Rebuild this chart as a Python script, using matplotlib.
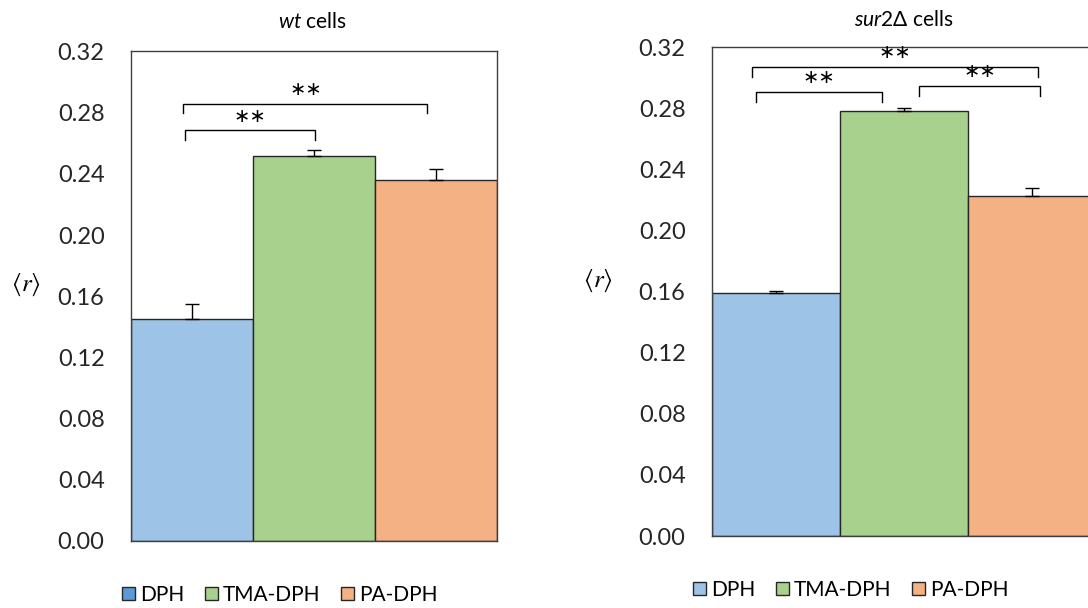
import matplotlib
matplotlib.use('Agg')
import matplotlib.pyplot as plt
from matplotlib.patches import Patch

plt.rcParams['font.family'] = ['Lato', 'DejaVu Sans']
plt.rcParams['mathtext.fontset'] = 'custom'
plt.rcParams['mathtext.rm'] = 'Lato'
plt.rcParams['mathtext.it'] = 'Lato:italic'

# datos
sondas = ['DPH', 'TMA-DPH', 'PA-DPH']
wt_media = [0.145, 0.2515, 0.236]
wt_error = [0.0100, 0.0040, 0.0070]
sur2_media = [0.159, 0.2784, 0.2225]
sur2_error = [0.0012, 0.0018, 0.0052]
yticks = [0.00, 0.04, 0.08, 0.12, 0.16, 0.20, 0.24, 0.28, 0.32]

# corchetes de significancia: (x0, x1, altura)
wt_corchetes = [(-0.06, 1.01, 0.2685), (-0.07, 1.93, 0.2860)]
sur2_corchetes = [(-0.19, 2.05, 0.3074), (-0.16, 0.83, 0.2910), (1.12, 2.06, 0.2948)]

colores = ['#9dc3e6', '#a9d18e', '#f4b183']
borde = '#262626'

fig = plt.figure(figsize=(10.88, 6.08), dpi=100)
ax1 = fig.add_axes([0.1204, 0.1102, 0.3364, 0.8051])
ax2 = fig.add_axes([0.6544, 0.1184, 0.3529, 0.8035])


def panel(ax, medias, errores, corchetes):
    x = list(range(len(sondas)))
    ax.bar(x, medias, width=1.0, color=colores, edgecolor=borde, linewidth=1.0, zorder=2)
    ax.errorbar(x, medias, yerr=[[0] * len(x), errores], fmt='none', ecolor='black',
                elinewidth=1.0, capsize=5, capthick=1.0, zorder=3)
    ax.set_xlim(-0.5, 2.5)
    ax.set_ylim(0, 0.32)
    ax.set_yticks(yticks)
    ax.set_yticklabels([f'{t:.2f}' for t in yticks])
    ax.set_xticks([])
    ax.tick_params(axis='y', length=0, pad=19, labelsize=17, labelcolor='#262626')
    for s in ax.spines.values():
        s.set_color('#404040')
        s.set_linewidth(1.0)
    for x0, x1, h in corchetes:
        ax.plot([x0, x0, x1, x1], [h - 0.0065, h, h, h - 0.0065], color='black', lw=1.0,
                solid_joinstyle='miter', zorder=4)
        ax.text((x0 + x1) / 2, h + 0.003, '∗∗', ha='center', va='bottom', fontsize=14,
                family=['DejaVu Sans'], zorder=4)


panel(ax1, wt_media, wt_error, wt_corchetes)
panel(ax2, sur2_media, sur2_error, sur2_corchetes)

fig.text(312 / 1088, 1 - 22 / 608, r'$\mathit{wt}$ cells', ha='center', va='center', fontsize=15)
fig.text(904 / 1088, 1 - 20 / 608, r'$\mathit{sur2}$Δ cells', ha='center', va='center', fontsize=15)

fig.text(26 / 1088, 1 - 285 / 608, r'$\langle r\rangle$', ha='center', va='center', fontsize=18,
         math_fontfamily='stix')
fig.text(598 / 1088, 1 - 281 / 608, r'$\langle r\rangle$', ha='center', va='center', fontsize=18,
         math_fontfamily='stix')

# leyendas (la de la izquierda tiene el DPH en azul oscuro)
leyenda_izq = ['#5b9bd5', colores[1], colores[2]]
h1 = [Patch(facecolor=c, edgecolor=borde, linewidth=1.0, label=s) for c, s in zip(leyenda_izq, sondas)]
h2 = [Patch(facecolor=c, edgecolor=borde, linewidth=1.0, label=s) for c, s in zip(colores, sondas)]
for h, cx, cy in [(h1, 280, 595), (h2, 851, 590)]:
    fig.legend(handles=h, loc='center', bbox_to_anchor=(cx / 1088, 1 - cy / 608), ncol=3,
               frameon=False, fontsize=15, handlelength=0.6, handleheight=0.6,
               handletextpad=0.25, columnspacing=1.0)

fig.savefig('out.png', dpi=100)
